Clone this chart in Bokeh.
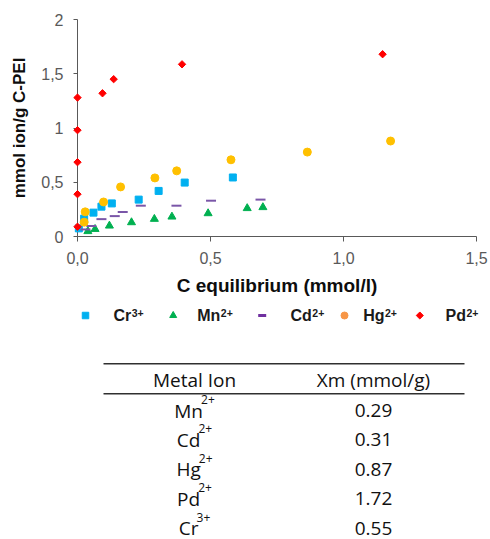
import math
from bokeh.plotting import figure
from bokeh.models import Range1d, FixedTicker, ColumnDataSource
from bokeh.layouts import column
from bokeh.embed import file_html
from bokeh.resources import INLINE
from bokeh.core.properties import value

# ---------------- data ----------------
x_ticks = [0, 0.5, 1, 1.5]
x_tick_labels = ["0,0", "0,5", "1,0", "1,5"]
y_ticks = [0, 0.5, 1, 1.5, 2]
y_tick_labels = ["0", "0,5", "1", "1,5", "2"]

ions = ["Cr", "Mn", "Cd", "Hg", "Pd"]
ion_charges = ["3+", "2+", "2+", "2+", "2+"]

cr_x = [0.005, 0.025, 0.06, 0.09, 0.129, 0.23, 0.305, 0.403, 0.584]
cr_y = [0.075, 0.165, 0.22, 0.275, 0.305, 0.34, 0.42, 0.497, 0.544]
mn_x = [0.039, 0.066, 0.12, 0.203, 0.289, 0.355, 0.491, 0.638, 0.697]
mn_y = [0.048, 0.068, 0.099, 0.13, 0.161, 0.182, 0.213, 0.26, 0.269]
cd_x = [0.03, 0.052, 0.09, 0.14, 0.17, 0.238, 0.372, 0.502, 0.688]
cd_y = [0.065, 0.097, 0.16, 0.188, 0.226, 0.284, 0.284, 0.33, 0.34]
hg_x = [0.025, 0.029, 0.098, 0.162, 0.291, 0.373, 0.577, 0.864, 1.177]
hg_y = [0.132, 0.227, 0.318, 0.457, 0.54, 0.605, 0.707, 0.778, 0.88]
pd_x = [0, 0, 0, 0, 0, 0.094, 0.136, 0.393, 1.147]
pd_y = [0.09, 0.39, 0.685, 0.98, 1.28, 1.32, 1.45, 1.587, 1.68]

table_header = ["Metal Ion", "Xm (mmol/g)"]
table_ions = ["Mn", "Cd", "Hg", "Pd", "Cr"]
table_charges = ["2+", "2+", "2+", "2+", "3+"]
table_xm = [0.29, 0.31, 0.87, 1.72, 0.55]

series_x = [cr_x, mn_x, cd_x, hg_x, pd_x]
series_y = [cr_y, mn_y, cd_y, hg_y, pd_y]

# ---------------- styles ----------------
chart_styles = [
    dict(marker="square", size=7, color="#00B0F0", angle=0),
    dict(marker="triangle", size=8, color="#00B050", angle=0),
    dict(marker="dash", size=10, color="#7A56A8", angle=0, line_width=2),
    dict(marker="circle", size=8, color="#FFC000", angle=0),
    dict(marker="square", size=5.2, color="#FF0000", angle=math.pi / 4),
]
legend_styles = [
    dict(marker="square", size=6.5, color="#00B0F0", angle=0),
    dict(marker="triangle", size=7, color="#00B050", angle=0),
    dict(marker="dash", size=8, color="#7030A0", angle=0, line_width=3),
    dict(marker="circle", size=7, color="#F79646", angle=0),
    dict(marker="square", size=5, color="#FF0000", angle=math.pi / 4),
]

W = 490
BL, BR = 77, 14  # shared left/right borders (frames are aligned in the column)

# ---------------- chart ----------------
p = figure(width=W, height=300, x_range=Range1d(0, 1.5), y_range=Range1d(0, 2),
           output_backend="svg", toolbar_location=None,
           min_border_left=BL, min_border_right=BR, min_border_top=19, min_border_bottom=64)
p.outline_line_color = None
p.grid.grid_line_color = None

axis_col = "#595959"
p.xaxis.ticker = FixedTicker(ticks=x_ticks)
p.yaxis.ticker = FixedTicker(ticks=y_ticks)
p.xaxis.major_label_overrides = {t: l for t, l in zip(x_ticks, x_tick_labels)}
p.yaxis.major_label_overrides = {t: l for t, l in zip(y_ticks, y_tick_labels)}
for ax in (p.xaxis[0], p.yaxis[0]):
    ax.axis_line_color = axis_col
    ax.major_tick_line_color = axis_col
    ax.minor_tick_line_color = None
    ax.major_tick_in = 0
    ax.major_label_text_font = "Liberation Sans"
    ax.major_label_text_font_size = "16px"
    ax.major_label_text_color = axis_col
    ax.axis_label_text_font = "Liberation Sans"
    ax.axis_label_text_font_style = "bold"
    ax.axis_label_text_color = "#0d0d0d"
p.xaxis.major_tick_out = 5
p.xaxis.major_label_standoff = 10
p.xaxis.axis_label = "C equilibrium (mmol/l)"
p.xaxis.axis_label_text_font_size = "19px"
p.xaxis.axis_label_standoff = 8
p.yaxis.major_tick_out = 4
p.yaxis.major_label_standoff = 10
p.yaxis.axis_label = "mmol ion/g C-PEI"
p.yaxis.axis_label_text_font_size = "17px"
p.yaxis.axis_label_standoff = 9

for xs, ys, st in zip(series_x, series_y, chart_styles):
    p.scatter(xs, ys, marker=st["marker"], size=st["size"], angle=st["angle"],
              fill_color=st["color"], line_color=st["color"],
              line_width=st.get("line_width", 1), level="overlay")

# ---------------- legend + table (pixel coordinates) ----------------
H2 = 239
q = figure(width=W, height=H2, x_range=Range1d(BL, W - BR), y_range=Range1d(H2, 0),
           output_backend="svg", toolbar_location=None,
           min_border_left=BL, min_border_right=BR, min_border_top=0, min_border_bottom=0,
           x_axis_location=None, y_axis_location=None)
q.outline_line_color = None
q.grid.grid_line_color = None

bold_w = dict(C=0.722, r=0.389, M=0.833, n=0.611, d=0.611, H=0.722, g=0.611, P=0.667)
os_w = dict(C=0.633, r=0.408, M=0.905, n=0.614, d=0.614, H=0.738, g=0.549, P=0.604,
            **{"2": 0.572, "3": 0.572, "+": 0.572})

def tw(s, table, size):
    return sum(table.get(c, 0.6) for c in s) * size

LEG_DY = -6
TAB_DY = -7

legend_marker_x = [85, 172.7, 261.7, 344, 419.3]
legend_label_x = [113, 196.7, 290, 362.7, 445]
legend_y = 15
for i, st in enumerate(legend_styles):
    q.scatter([legend_marker_x[i]], [legend_y], marker=st["marker"], size=st["size"],
              angle=st["angle"], fill_color=st["color"], line_color=st["color"],
              line_width=st.get("line_width", 1), level="overlay")

leg_src = ColumnDataSource(dict(x=legend_label_x, y=[21 + LEG_DY] * len(ions), t=ions))
q.text(x="x", y="y", text="t", source=leg_src, text_font=value("Liberation Sans"),
       text_font_style="bold", text_font_size="16px", text_baseline="alphabetic",
       text_align="left", text_color="#1a1a1a", level="overlay")
sup_x = [lx + tw(name, bold_w, 16) + 0.5 for lx, name in zip(legend_label_x, ions)]
sup_src = ColumnDataSource(dict(x=sup_x, y=[18.2 + LEG_DY] * len(ions), t=ion_charges))
q.text(x="x", y="y", text="t", source=sup_src, text_font=value("Liberation Sans"),
       text_font_style="bold", text_font_size="10.5px", text_baseline="alphabetic",
       text_align="left", text_color="#1a1a1a", level="overlay")

# table rules
q.segment(x0=[103, 103], y0=[63.3, 93.3], x1=[464, 464], y1=[63.3, 93.3],
          line_color="#303030", line_width=1.6, level="overlay")

col1_c, col2_c = 194, 373
q.text(x=[col1_c, col2_c], y=[86 + TAB_DY] * 2, text=table_header, text_font=value("Open Sans"),
       text_font_size="19px", text_baseline="alphabetic", text_align="center",
       text_color="#111111", level="overlay")

row_base = [117.0 + TAB_DY + 29.4 * i for i in range(len(table_ions))]
base_w = [tw(s, os_w, 19) - 2 for s in table_ions]
sup_w = [tw(s, os_w, 12) for s in table_charges]
start_x = [col1_c - (b + s) / 2 for b, s in zip(base_w, sup_w)]
q.text(x=start_x, y=row_base, text=table_ions, text_font=value("Open Sans"),
       text_font_size="19px", text_baseline="alphabetic", text_align="left",
       text_color="#111111", level="overlay")
q.text(x=[sx + b for sx, b in zip(start_x, base_w)], y=[r - 11 for r in row_base],
       text=table_charges, text_font=value("Open Sans"), text_font_size="12px",
       text_baseline="alphabetic", text_align="left", text_color="#111111", level="overlay")
q.text(x=[col2_c] * len(table_xm), y=row_base, text=["%.2f" % v for v in table_xm],
       text_font=value("Open Sans"), text_font_size="19px", text_baseline="alphabetic",
       text_align="center", text_color="#111111", level="overlay")

layout = column(p, q, spacing=0)
open("out.html", "w").write(file_html(layout, INLINE))
